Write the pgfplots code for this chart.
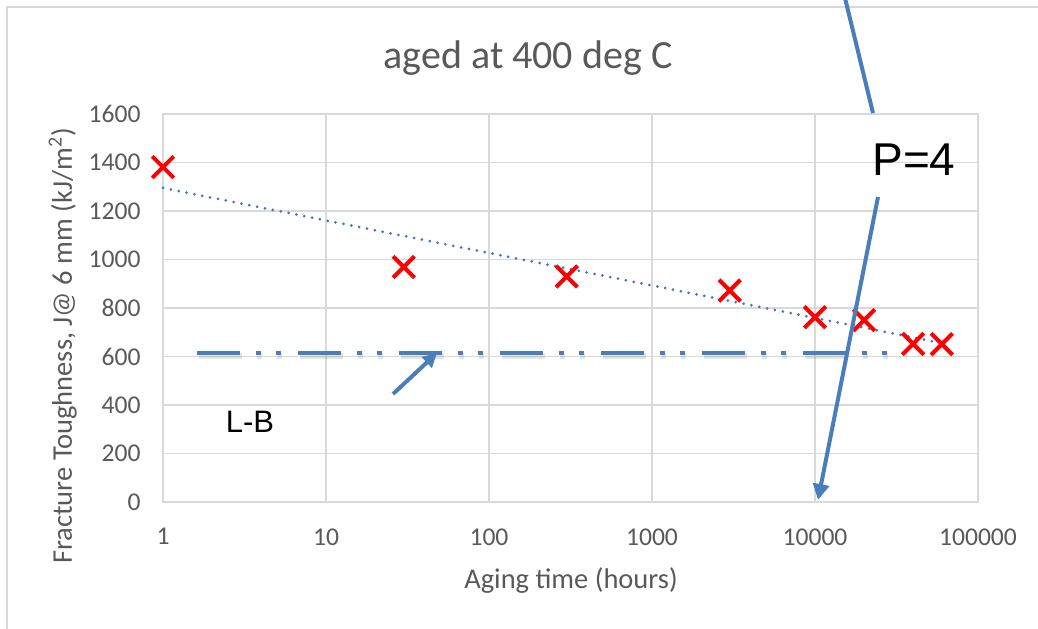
\documentclass[border=0pt]{standalone}
\usepackage{pgfplots}
\pgfplotsset{compat=1.18}
\usepackage{fontspec}
\setmainfont{Carlito}
\newfontfamily\arial{Liberation Sans}
\usetikzlibrary{arrows.meta}
\definecolor{gridgray}{HTML}{D9D9D9}
\definecolor{txtgray}{HTML}{595959}
\definecolor{trendblue}{HTML}{4472C4}
\definecolor{arrowblue}{RGB}{74,126,187}
\begin{document}
\begin{tikzpicture}
\useasboundingbox (-81.5pt,-63pt) rectangle (437.5pt,251pt);
\draw[gridgray, line width=0.75pt] (-78pt,-80pt) -- (-78pt,247.5pt) -- (450pt,247.5pt);
\begin{axis}[
  at={(0pt,0pt)}, anchor=south west,
  scale only axis, width=407.5pt, height=194pt,
  xmode=log, log basis x=10,
  xmin=1, xmax=100000, ymin=0, ymax=1600,
  xtick={1,10,100,1000,10000,100000},
  xticklabels={1,10,100,1000,10000,100000},
  ytick={0,200,400,600,800,1000,1200,1400,1600},
  scaled y ticks=false,
  grid=major, major grid style={gridgray, line width=0.75pt},
  axis line style={gridgray, line width=0.75pt},
  major tick length=0pt, minor tick length=0pt,
  tick style={draw=none},
  ticklabel style={font=\fontsize{12.8pt}{14pt}\selectfont, text=txtgray, inner sep=0pt},
  yticklabel style={xshift=-11pt, /pgf/number format/1000 sep={}},
  xticklabel style={yshift=-13pt},
  /pgf/number format/assume math mode=true,
  clip=false,
]
% L-B line (shadow + line)
\addplot[black, opacity=0.10, line width=3pt, shift={(0.8pt,-1.6pt)},
  dash pattern=on 21.5pt off 7.75pt on 2.5pt off 7.5pt on 2.5pt off 8.75pt]
  coordinates {(1.62,615) (35500,615)};
\addplot[arrowblue, line width=2.25pt,
  dash pattern=on 21.5pt off 7.75pt on 2.5pt off 7.5pt on 2.5pt off 8.75pt]
  coordinates {(1.62,615) (35500,615)};
% trend line
\addplot[trendblue, line width=1.5pt, line cap=round, dash pattern=on 0pt off 4pt]
  coordinates {(1,1295) (10,1161) (100,1027) (1000,893) (10000,759) (60000,655)};
% data
\addplot[only marks, red, mark=x, mark size=7.6pt, mark options={line width=2pt}]
  coordinates {(1,1381) (30,969) (300,930) (3000,872) (10000,762) (20000,750) (40000,652) (60000,651)};
\end{axis}
\begin{scope}[x=0.5pt, y=-0.5pt, shift={(-81.5pt,251pt)}]
\draw[arrowblue, line width=2pt, -{Triangle[length=7pt,width=7pt]}] (393,394) -- (437,353);
\draw[arrowblue, line width=2pt, -{Triangle[length=8pt,width=8pt]}] (878,197) -- (818,500);
\draw[arrowblue, line width=2pt] (844,-6) -- (873,113);
\node[font=\arial\fontsize{23pt}{26pt}\selectfont, anchor=base, inner sep=0pt] at (914,175) {P=4};
\node[font=\arial\fontsize{15.5pt}{18pt}\selectfont, anchor=base, inner sep=0pt] at (250,432) {L-B};
\node[font=\fontsize{20pt}{24pt}\selectfont, text=txtgray, anchor=base, inner sep=0pt] at (528,68) {aged at 400 deg C};
\node[font=\fontsize{14.25pt}{16pt}\selectfont, text=txtgray, anchor=base, inner sep=0pt] at (571,588) {Aging time (hours)};
\node[font=\fontsize{14.25pt}{16pt}\selectfont, text=txtgray, anchor=base, inner sep=0pt, rotate=90] at (72,346) {Fracture Toughness, J@ 6 mm (kJ/m\textsuperscript{2})};
\end{scope}
\end{tikzpicture}
\end{document}
